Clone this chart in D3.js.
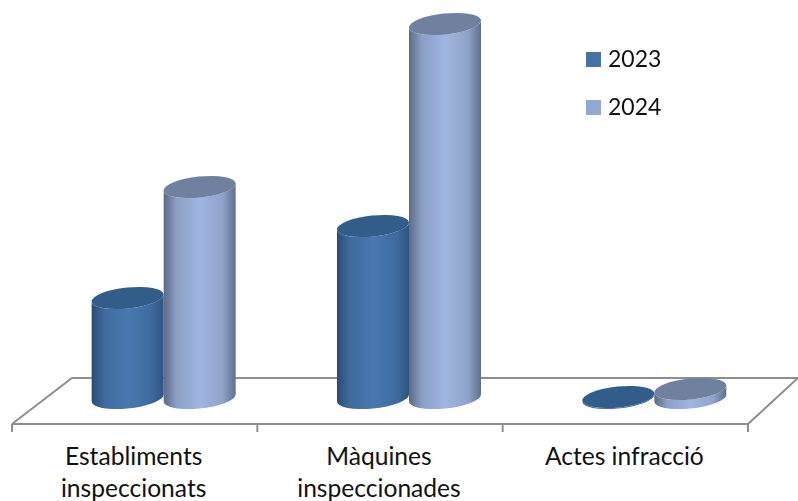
<!DOCTYPE html>
<html>
<head>
<meta charset="utf-8">
<script src="https://cdn.jsdelivr.net/npm/d3@7"></script>
<style>
  html, body { margin: 0; padding: 0; background: #fff; }
  svg { display: block; }
  text { font-family: Lato, "Open Sans", sans-serif; fill: #111; }
</style>
</head>
<body>
<svg id="chart" width="798" height="501"></svg>
<script>
const categories = [["Establiments", "inspeccionats"], ["Màquines", "inspeccionades"], ["Actes infracció"]];
const years = ["2023", "2024"];
const values2023 = [100, 172, 1];
const values2024 = [211, 374, 9];
const bodyColors = [["#2b4b75", "#3f6b9f", "#4878b0", "#3f6b9f", "#2e5482"], ["#5b6a86", "#8c9fc6", "#9fb6e0", "#8fa3ca", "#5f6f8c"]];
const topColors = ["#335c8a", "#6f819f"];
const legendColors = ["#4572a7", "#93a9cf"];

const width = 798, height = 501;
const svg = d3.select("#chart");

// front edge of the floor, the bars sit further back by depthX
const frontY = 424, backY = 378, baseY = 398, depthX = 29;
const x = d3.scaleBand().domain(d3.range(categories.length)).range([12, 748]);
const xInner = d3.scaleBand().domain(years).range([-72, 72]);
const y = d3.scaleLinear().domain([0, 400]).range([0, 400]);

const defs = svg.append("defs");
years.forEach((yr, i) => {
    const grad = defs.append("linearGradient").attr("id", "body" + yr);
    [0, 0.18, 0.5, 0.82, 1].forEach((o, j) => {
        grad.append("stop").attr("offset", o).attr("stop-color", bodyColors[i][j]);
    });
});
// the picture is a little soft
defs.append("filter").attr("id", "soft")
    .append("feGaussianBlur").attr("stdDeviation", 0.4);

// floor
svg.append("path")
    .attr("d", d3.line()([[12, frontY], [72, backY], [798, backY], [748, frontY], [12, frontY]]))
    .attr("fill", "none")
    .attr("stroke", "#8e8e8e")
    .attr("stroke-width", 2);

svg.append("g")
    .selectAll("line")
    .data(d3.range(categories.length + 1))
    .enter().append("line")
    .attr("x1", d => 12 + d * x.step())
    .attr("x2", d => 12 + d * x.step())
    .attr("y1", frontY)
    .attr("y2", frontY + 8)
    .attr("stroke", "#8e8e8e")
    .attr("stroke-width", 2);

// tilted ellipse, rx/ry chosen so the cylinder is bandwidth wide
const ry = 10.5, tilt = -6 * Math.PI / 180;
const halfW = xInner.bandwidth() / 2;
const rx = Math.sqrt((halfW * halfW - ry * ry * Math.sin(tilt) ** 2) / Math.cos(tilt) ** 2);

function edgePoint() {
    // where the ellipse reaches its rightmost x
    const t = Math.atan(-(ry / rx) * Math.tan(tilt));
    return [rx * Math.cos(t) * Math.cos(tilt) - ry * Math.sin(t) * Math.sin(tilt),
            rx * Math.cos(t) * Math.sin(tilt) + ry * Math.sin(t) * Math.cos(tilt)];
}

function drawCylinder(g, cx, h, yr, i) {
    const [ex, ey] = edgePoint();
    const deg = tilt * 180 / Math.PI;
    const top = baseY - h;
    g.append("path")
        .attr("d", `M${cx - ex},${top - ey} L${cx - ex},${baseY - ey} A${rx},${ry} ${deg} 0 0 ${cx + ex},${baseY + ey} L${cx + ex},${top + ey} A${rx},${ry} ${deg} 0 1 ${cx - ex},${top - ey} Z`)
        .attr("fill", `url(#body${yr})`);
    g.append("ellipse")
        .attr("rx", rx)
        .attr("ry", ry)
        .attr("transform", `translate(${cx},${top}) rotate(${deg})`)
        .attr("fill", topColors[i]);
}

const bars = svg.append("g").attr("filter", "url(#soft)");
[values2023, values2024].forEach((vals, i) => {
    vals.forEach((v, c) => {
        const cx = x(c) + x.bandwidth() / 2 + depthX + xInner(years[i]) + halfW;
        drawCylinder(bars, cx, y(v), years[i], i);
    });
});

// category labels
const labels = svg.append("g").attr("font-size", 24.6).attr("text-anchor", "middle");
categories.forEach((lines, c) => {
    const t = labels.append("text").attr("x", x(c) + x.bandwidth() / 2 - 1).attr("y", 465);
    lines.forEach((line, j) => {
        t.append("tspan").attr("x", x(c) + x.bandwidth() / 2 - 1).attr("dy", j ? 32 : 0).text(line);
    });
});

// legend
const legend = svg.append("g").selectAll("g").data(years).enter().append("g")
    .attr("transform", (d, i) => `translate(586,${52 + i * 48})`);
legend.append("rect").attr("width", 15).attr("height", 15).attr("fill", (d, i) => legendColors[i]);
legend.append("text").attr("x", 22).attr("y", 15).attr("font-size", 23).text(d => d);
</script>
</body>
</html>
